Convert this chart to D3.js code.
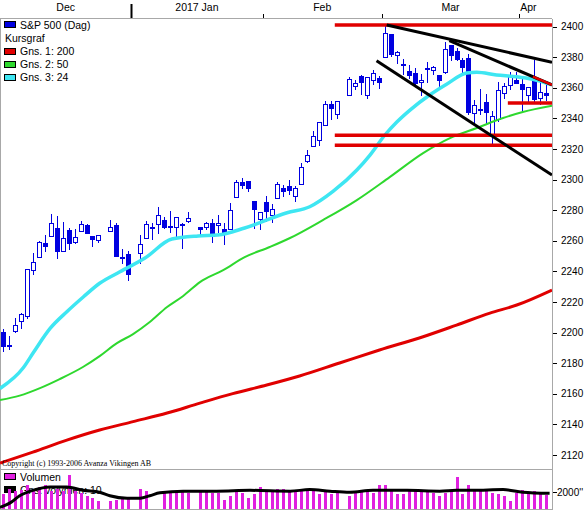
<!DOCTYPE html>
<html>
<head>
<meta charset="utf-8">
<script src="https://cdn.jsdelivr.net/npm/d3@7"></script>
<style>
  body { margin: 0; background: #fff; }
  svg { display: block; }
  text { font-family: "Liberation Sans", Arial, sans-serif; fill: #000; }
</style>
</head>
<body>
<div id="chart"></div>
<script>
// S&P 500 (Dag), daily candles Dec 2016 - Apr 2017
const dates = [
  "2016-12-01","2016-12-02","2016-12-05","2016-12-06","2016-12-07","2016-12-08","2016-12-09",
  "2016-12-12","2016-12-13","2016-12-14","2016-12-15","2016-12-16","2016-12-19","2016-12-20",
  "2016-12-21","2016-12-22","2016-12-23","2016-12-27","2016-12-28","2016-12-29","2016-12-30",
  "2017-01-03","2017-01-04","2017-01-05","2017-01-06","2017-01-09","2017-01-10","2017-01-11",
  "2017-01-12","2017-01-13","2017-01-17","2017-01-18","2017-01-19","2017-01-20","2017-01-23",
  "2017-01-24","2017-01-25","2017-01-26","2017-01-27","2017-01-30","2017-01-31",
  "2017-02-01","2017-02-02","2017-02-03","2017-02-06","2017-02-07","2017-02-08","2017-02-09",
  "2017-02-10","2017-02-13","2017-02-14","2017-02-15","2017-02-16","2017-02-17","2017-02-21",
  "2017-02-22","2017-02-23","2017-02-24","2017-02-27","2017-02-28",
  "2017-03-01","2017-03-02","2017-03-03","2017-03-06","2017-03-07","2017-03-08","2017-03-09",
  "2017-03-10","2017-03-13","2017-03-14","2017-03-15","2017-03-16","2017-03-17","2017-03-20",
  "2017-03-21","2017-03-22","2017-03-23","2017-03-24","2017-03-27","2017-03-28","2017-03-29",
  "2017-03-30","2017-03-31",
  "2017-04-03","2017-04-04","2017-04-05","2017-04-06","2017-04-07"
];
const opens = [
  2200.2,2191.1,2200.7,2207.3,2210.7,2241.1,2249.7,2258.8,2263.3,2268.4,2253.8,2266.8,2259.2,2266.5,
  2270.5,2262.9,2260.3,2266.2,2270.2,2249.5,2251.6,
  2251.6,2261.6,2268.2,2271.1,2273.6,2269.7,2268.6,2271.1,2272.7,2269.1,2269.1,2271.9,2270.0,2267.8,
  2267.9,2288.9,2298.6,2299.0,2286.0,2274.0,
  2285.6,2276.7,2288.5,2294.3,2295.9,2289.6,2296.7,2312.3,2321.7,2326.1,2335.6,2349.6,2343.0,2354.9,
  2361.1,2367.5,2355.7,2365.2,2366.1,
  2380.1,2394.8,2380.9,2375.2,2370.7,2369.8,2363.5,2372.5,2371.6,2368.6,2370.3,2387.7,2383.7,2378.2,
  2379.3,2343.0,2346.0,2350.4,2329.1,2339.8,2356.5,2361.3,2364.8,
  2362.3,2354.8,2366.6,2353.8,2356.6
];
const highs = [
  2202.6,2198.0,2209.4,2212.8,2241.6,2251.7,2259.8,2264.0,2277.5,2276.2,2272.1,2268.1,2267.5,2272.6,
  2271.2,2263.2,2263.8,2273.8,2271.3,2254.5,2253.6,
  2263.9,2272.8,2271.5,2282.1,2275.5,2279.3,2275.3,2271.8,2278.7,2269.1,2272.1,2274.3,2277.0,2271.8,
  2284.6,2299.6,2301.0,2299.0,2286.0,2279.1,
  2289.1,2284.0,2298.3,2296.2,2299.4,2295.9,2311.1,2319.2,2331.6,2337.6,2351.3,2351.3,2351.2,2366.7,
  2365.1,2368.3,2367.3,2371.5,2367.8,
  2401.0,2394.8,2383.9,2378.8,2375.1,2373.1,2369.1,2376.9,2374.4,2368.6,2390.0,2388.1,2385.7,2379.6,
  2381.9,2351.8,2358.9,2356.2,2344.9,2363.8,2363.4,2370.4,2370.4,
  2365.9,2360.5,2378.4,2364.2,2363.8
];
const lows = [
  2187.4,2188.4,2200.0,2202.2,2208.9,2237.6,2249.2,2252.4,2263.3,2248.4,2253.8,2254.2,2258.2,2266.1,
  2265.2,2256.1,2258.8,2266.2,2249.1,2244.6,2233.6,
  2245.1,2261.6,2260.5,2264.1,2268.0,2265.3,2260.8,2254.3,2271.5,2262.8,2266.8,2258.4,2265.0,2257.0,
  2266.7,2288.9,2294.1,2291.6,2268.0,2267.2,
  2272.4,2271.7,2287.9,2288.6,2290.2,2285.4,2296.6,2311.1,2321.4,2322.2,2334.8,2338.9,2339.6,2354.9,
  2358.3,2355.1,2352.9,2361.9,2359.0,
  2380.1,2380.2,2375.4,2368.0,2365.5,2361.0,2354.5,2363.0,2368.5,2358.2,2368.9,2377.2,2377.6,2369.7,
  2341.9,2336.5,2342.1,2335.7,2322.3,2337.6,2352.9,2358.6,2362.6,
  2344.7,2350.7,2350.5,2348.9,2351.5
];
const closes = [
  2191.1,2192.0,2204.7,2212.2,2241.4,2246.2,2259.5,2257.0,2271.7,2253.3,2262.0,2258.1,2262.5,2270.8,
  2265.2,2261.0,2263.8,2268.9,2249.9,2249.3,2238.8,
  2257.8,2270.8,2269.0,2277.0,2268.9,2268.9,2275.3,2270.4,2274.6,2267.9,2271.9,2263.7,2271.3,2265.2,
  2280.1,2298.4,2296.7,2294.7,2280.9,2278.9,
  2279.6,2280.9,2297.4,2292.6,2293.1,2294.7,2307.9,2316.1,2328.3,2337.6,2349.3,2347.2,2351.2,2365.4,
  2362.8,2363.8,2367.3,2369.8,2363.6,
  2396.0,2381.9,2383.1,2375.3,2368.4,2363.0,2364.9,2372.6,2373.5,2365.5,2385.3,2381.4,2378.3,2373.5,
  2344.0,2348.5,2346.0,2344.0,2341.6,2358.6,2361.1,2368.1,2362.7,
  2358.8,2360.2,2353.0,2357.5,2355.5
];
const volumes = [
  1860,2430,2220,2300,2890,2300,2660,3000,2220,2400,2220,4220,2220,2000,1560,1330,890,890,1100,1240,1330,
  2430,2220,null,null,2000,2220,2220,2220,2000,2220,2220,2000,2000,1100,1560,2220,2000,1330,1770,2660,
  2220,2300,2430,2430,2220,2220,2220,2300,2220,1770,2220,1770,2220,1560,2000,2300,2300,2000,2890,
  2890,2220,1860,1860,2130,2220,2130,2130,2000,1560,2000,2220,4000,1860,2890,2220,2130,2130,2000,1860,1560,970,2000,
  2300,2000,2130,1860,1690
];

// moving averages: [weekday slot, value]
const ma200 = [[-0.5,2114.7],[5,2121.9],[10.7,2129.7],[16.2,2136.3],[21.8,2141.8],[27.5,2147.4],[33,2153.9],
  [38.5,2160.1],[44.2,2165.7],[49.7,2171.6],[56.4,2180.1],[63.1,2188.6],[70.4,2197.3],[76,2204.9],
  [81.6,2212.7],[86.1,2218],[92,2227.8]];
const ma50 = [[-0.5,2155.9],[2.8,2158.8],[6.2,2163.7],[9.5,2169.6],[13.4,2177.5],[16.2,2184.6],[19.1,2193.1],
  [21.8,2199],[24.6,2206.9],[27.5,2216.7],[30.2,2223.9],[33,2233],[36.9,2240.8],[40.5,2249.3],[44.7,2255.9],
  [48.1,2261.8],[53.6,2273.5],[59.3,2286.6],[64.8,2301.6],[70.4,2317.3],[74.9,2327.1],[79.4,2333.7],
  [83.8,2340.2],[87.1,2344.1],[92,2348.2]];
const ma24 = [[-0.5,2163.5],[3.4,2177],[5.1,2187],[7.9,2202.7],[10.7,2213.6],[13.5,2223.4],[16.2,2232.2],
  [19.6,2239.7],[23.8,2248.7],[28.3,2261.1],[32.7,2263.1],[36,2263.7],[40.5,2268.3],[47.6,2278.3],
  [51.4,2282.2],[55.3,2292.2],[59.3,2306.2],[61.5,2316],[64,2329.1],[66,2337.6],[68.2,2345.4],
  [71.5,2355.2],[74.4,2362.4],[77.7,2369.6],[79.4,2370.1],[82.7,2368.3],[86.1,2367.2],[88.8,2365.5],[92,2361.8]];
const volMa10 = [[-0.5,133],[1.2,700],[2.8,1600],[5,2270],[7.9,2700],[10.7,2700],[13.4,2270],[16.2,2040],
  [17.9,1600],[20.8,1290],[23,1290],[24.6,1600],[26.3,1960],[30.2,2170],[35.8,2170],[41.4,2270],
  [48.1,2170],[51.4,2360],[54.8,2170],[58.1,2040],[62,2270],[67.7,2270],[73.2,2170],[76,2270],
  [78.7,2270],[83.8,2360],[87.1,2040],[91.6,1900]];

// drawn support levels and trend lines
const supportLevels = [2401, 2328.9, 2322.4, 2350];
const supportFrom = [55.6, 55.6, 55.6, 84.6];
const trendLines = [
  [[64.3, 2401], [92, 2376.6]],
  [[74.8, 2390.7], [92, 2361.8]],
  [[62.6, 2377.6], [92, 2302.9]]
];
const redTrend = [[88.8, 2367.2], [92, 2361.8]];

const priceTicks = [2120,2140,2160,2180,2200,2220,2240,2260,2280,2300,2320,2340,2360,2380,2400];
const monthLabels = ["Dec", "2017 Jan", "Feb", "Mar", "Apr"];
const monthStarts = ["2017-01-02", "2017-02-01", "2017-03-01", "2017-04-03"];
const legendItems = [
  {label: "S&P 500 (Dag)", color: "#0000e0"},
  {label: "Kursgraf", color: null},
  {label: "Gns. 1: 200", color: "#e00000"},
  {label: "Gns. 2: 50", color: "#2ed82e"},
  {label: "Gns. 3: 24", color: "#3ee6f2"}
];

const width = 587, height = 512;
const plotRight = 552, plotTop = 19, plotBottom = 469;
const volTop = 470, volBottom = 508.5;
const blue = "#0000e0", grey = "#a8a8a8";

const parse = d3.timeParse("%Y-%m-%d");
const weekday = d3.timeDay.filter(d => d.getDay() !== 0 && d.getDay() !== 6);
const start = parse(dates[0]);
const slotOf = s => weekday.range(start, parse(s)).length;

const bars = dates.map((d, i) => ({
  slot: slotOf(d), o: opens[i], h: highs[i], l: lows[i], c: closes[i], v: volumes[i]
}));

const x = d3.scaleLinear().domain([-0.5, 92]).range([0, plotRight]);
const y = d3.scaleLinear().domain([2120, 2400]).range([455, 26.5]);
const vy = d3.scaleLinear().domain([0, 2000]).range([volBottom, 492.5]);

const svg = d3.select("#chart").append("svg")
  .attr("width", width)
  .attr("height", height);

const defs = svg.append("defs");
defs.append("clipPath").attr("id", "clip-price")
  .append("rect").attr("x", 0).attr("y", plotTop).attr("width", plotRight).attr("height", plotBottom - plotTop);
defs.append("clipPath").attr("id", "clip-vol")
  .append("rect").attr("x", 0).attr("y", volTop).attr("width", plotRight).attr("height", volBottom - volTop + 1);

// frame
const frame = svg.append("g").attr("stroke", grey).attr("shape-rendering", "crispEdges");
frame.append("line").attr("x1", 0).attr("x2", plotRight).attr("y1", 18.5).attr("y2", 18.5);
frame.append("line").attr("x1", 0).attr("x2", plotRight).attr("y1", 469.5).attr("y2", 469.5);
frame.append("line").attr("x1", 0).attr("x2", plotRight).attr("y1", 509.5).attr("y2", 509.5);
frame.append("line").attr("x1", 0.5).attr("x2", 0.5).attr("y1", 18.5).attr("y2", 509.5);
frame.append("line").attr("x1", plotRight + 0.5).attr("x2", plotRight + 0.5).attr("y1", 18.5).attr("y2", 509.5);

// top month axis
const tickX = monthStarts.map(s => x(slotOf(s) - 0.5));
const bounds = [0, ...tickX, plotRight];
svg.append("g").selectAll("line").data(tickX).join("line")
  .attr("x1", d => Math.round(d) + 0.5).attr("x2", d => Math.round(d) + 0.5)
  .attr("y1", (d, i) => i === 0 ? 4 : 14).attr("y2", 18)
  .attr("stroke", "#000")
  .attr("stroke-width", (d, i) => i === 0 ? 2 : 1);
svg.append("g").selectAll("text").data(monthLabels).join("text")
  .attr("x", (d, i) => i === monthLabels.length - 1 ? bounds[i] + 1 : (bounds[i] + bounds[i + 1]) / 2)
  .attr("y", 11)
  .attr("text-anchor", (d, i) => i === monthLabels.length - 1 ? "start" : "middle")
  .style("font-size", "10.5px")
  .text(d => d);

// right price axis
const axis = svg.append("g");
axis.selectAll("line").data(priceTicks).join("line")
  .attr("x1", 553).attr("x2", 557)
  .attr("y1", d => Math.round(y(d)) + 0.5).attr("y2", d => Math.round(y(d)) + 0.5)
  .attr("stroke", "#000");
axis.selectAll("text").data(priceTicks).join("text")
  .attr("x", 561).attr("y", d => y(d)).attr("dy", "0.36em")
  .style("font-size", "10px")
  .text(d => d);

// price panel
const price = svg.append("g").attr("clip-path", "url(#clip-price)");

const candles = price.append("g").attr("shape-rendering", "crispEdges");
candles.selectAll("line").data(bars).join("line")
  .attr("x1", d => Math.round(x(d.slot)) + 0.5).attr("x2", d => Math.round(x(d.slot)) + 0.5)
  .attr("y1", d => y(d.h)).attr("y2", d => y(d.l))
  .attr("stroke", blue);
candles.selectAll("rect").data(bars).join("rect")
  .attr("x", d => Math.round(x(d.slot)) - 1.5)
  .attr("width", 4)
  .attr("y", d => Math.round(y(Math.max(d.o, d.c))) + 0.5)
  .attr("height", d => Math.max(1, Math.round(Math.abs(y(d.o) - y(d.c)))))
  .attr("fill", d => d.c >= d.o ? "#fff" : blue)
  .attr("stroke", blue);

const maLine = d3.line().x(d => x(d[0])).y(d => y(d[1])).curve(d3.curveMonotoneX);
price.append("path").datum(ma200).attr("d", maLine)
  .attr("fill", "none").attr("stroke", "#e00000").attr("stroke-width", 3);
price.append("path").datum(ma50).attr("d", maLine)
  .attr("fill", "none").attr("stroke", "#2ed82e").attr("stroke-width", 2);
price.append("path").datum(ma24).attr("d", maLine)
  .attr("fill", "none").attr("stroke", "#3ee6f2").attr("stroke-width", 3.5);

price.append("g").selectAll("line").data(supportLevels).join("line")
  .attr("x1", (d, i) => x(supportFrom[i])).attr("x2", plotRight)
  .attr("y1", d => y(d)).attr("y2", d => y(d))
  .attr("stroke", "#e00000").attr("stroke-width", 3.5);

const straight = d3.line().x(d => x(d[0])).y(d => y(d[1]));
price.append("g").selectAll("path").data(trendLines).join("path")
  .attr("d", straight)
  .attr("fill", "none").attr("stroke", "#000").attr("stroke-width", 3);
price.append("path").datum(redTrend).attr("d", straight)
  .attr("fill", "none").attr("stroke", "#e00000").attr("stroke-width", 2.5);

svg.append("text")
  .attr("x", 2).attr("y", 466)
  .style("font-family", "'Liberation Serif', 'Times New Roman', serif")
  .style("font-size", "8px")
  .text("Copyright (c) 1993-2006 Avanza Vikingen AB");

// legend, price panel
const legend = svg.append("g");
const rows = legend.selectAll("g").data(legendItems).join("g")
  .attr("transform", (d, i) => `translate(0,${[25, 38.5, 51.5, 64.5, 77.5][i]})`);
rows.filter(d => d.color).append("rect")
  .attr("x", 4.5).attr("y", -3.5).attr("width", 11).attr("height", 6)
  .attr("fill", d => d.color).attr("stroke", "#000").attr("shape-rendering", "crispEdges");
rows.append("text")
  .attr("x", d => d.color ? 20 : 5).attr("dy", "0.36em")
  .style("font-size", "10.5px")
  .text(d => d.label);

// volume panel
const volG = svg.append("g");
const volLegend = [{label: "Volumen", color: "#e020e0", yy: 477}, {label: "Gns. volymen: 10", color: "#000", yy: 490}];
const vrows = volG.selectAll("g").data(volLegend).join("g")
  .attr("transform", d => `translate(0,${d.yy})`);
vrows.append("rect")
  .attr("x", 4.5).attr("y", -3.5).attr("width", 11).attr("height", 6)
  .attr("fill", d => d.color).attr("stroke", "#000").attr("shape-rendering", "crispEdges");
vrows.append("text")
  .attr("x", 20).attr("dy", "0.36em")
  .style("font-size", "10.5px")
  .text(d => d.label);

const volPlot = svg.append("g").attr("clip-path", "url(#clip-vol)");
volPlot.append("g").attr("shape-rendering", "crispEdges")
  .selectAll("rect").data(bars.filter(d => d.v != null)).join("rect")
  .attr("x", d => Math.round(x(d.slot)) - 1)
  .attr("width", 3)
  .attr("y", d => vy(d.v))
  .attr("height", d => volBottom - vy(d.v))
  .attr("fill", "#e020e0");
volPlot.append("path").datum(volMa10)
  .attr("d", d3.line().x(d => x(d[0])).y(d => vy(d[1])).curve(d3.curveMonotoneX))
  .attr("fill", "none").attr("stroke", "#000").attr("stroke-width", 3);

svg.append("line").attr("x1", 553).attr("x2", 557)
  .attr("y1", vy(2000)).attr("y2", vy(2000)).attr("stroke", "#000");
svg.append("text").attr("x", 557).attr("y", vy(2000)).attr("dy", "0.36em")
  .style("font-size", "10px")
  .text("2000''");
</script>
</body>
</html>
